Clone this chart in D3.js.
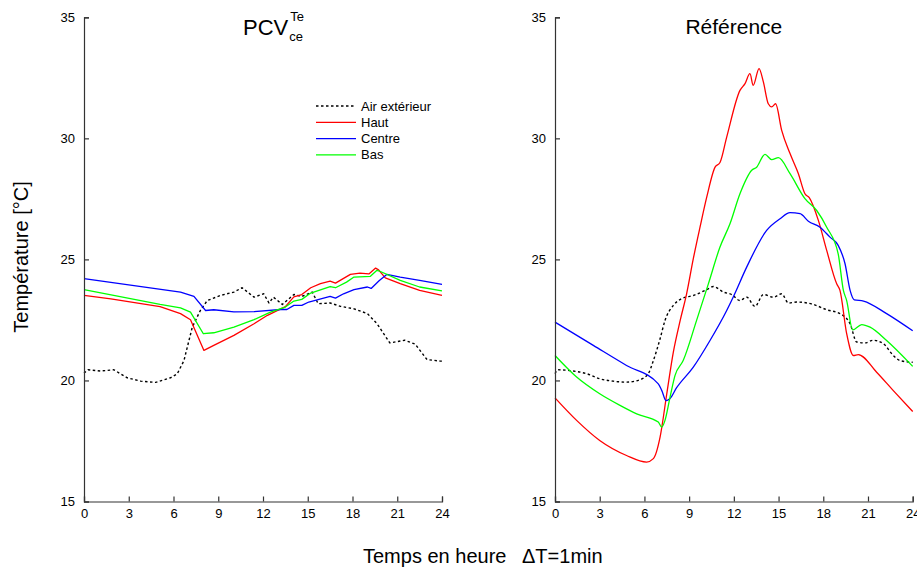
<!DOCTYPE html>
<html><head><meta charset="utf-8">
<script src="https://cdn.jsdelivr.net/npm/d3@7"></script>
<style>body{margin:0;background:#fff}svg{display:block}text{font-family:"Liberation Sans",Arial,sans-serif;fill:#000}</style>
</head><body><svg id="c" width="917" height="568"></svg>
<script>
// ---------- data ----------
const xTicks = [0,3,6,9,12,15,18,21,24];
const yTicks = [15,20,25,30,35];
const seriesNames = ["Air extérieur","Haut","Centre","Bas"];
const seriesColors = ["#000000","#ff0000","#0000ff","#00ff00"];

// PCV panel  [hour, °C]
const pcvAir = [[0,20.3],[0.27,20.44],[1.1,20.39],[2.0,20.44],[2.9,20.11],[3.8,19.97],[4.8,19.92],[5.8,20.11],[6.25,20.27],[6.7,20.82],[7.26,22.2],[7.8,22.89],[8.26,23.3],[9.15,23.51],[10.05,23.65],[10.6,23.83],[11.4,23.44],[12.05,23.58],[12.4,23.2],[12.7,23.44],[13.3,23.14],[14.07,23.55],[14.6,23.47],[15.3,23.65],[15.7,23.17],[16.5,23.2],[17.2,23.06],[18.1,22.96],[19.0,22.76],[19.65,22.34],[20.5,21.55],[21.5,21.66],[22.2,21.5],[23.0,20.86],[23.9,20.8],[24,20.8]];
const pcvHaut = [[0,23.51],[1.8,23.37],[5.1,23.05],[6.47,22.76],[7.14,22.51],[8.04,21.24],[8.7,21.45],[10.05,21.86],[11.4,22.34],[12.3,22.69],[13.5,23.05],[14.07,23.45],[14.6,23.55],[15.2,23.83],[15.85,24.0],[16.5,24.1],[16.86,24.02],[17.86,24.38],[18.5,24.43],[19.1,24.4],[19.55,24.64],[19.75,24.57],[20.2,24.24],[21.2,24.0],[22.5,23.72],[24,23.51]];
const pcvCentre = [[0,24.21],[6.47,23.65],[7.37,23.47],[8.15,22.89],[8.7,22.92],[10.05,22.83],[11.4,22.84],[13.2,22.93],[13.6,22.93],[14.07,23.1],[14.6,23.1],[15.07,23.24],[16.5,23.47],[16.86,23.4],[17.4,23.58],[18.1,23.75],[19.0,23.86],[19.25,23.8],[19.8,24.13],[20.3,24.38],[21.2,24.27],[22.5,24.13],[24,23.97]];
const pcvBas = [[0,23.75],[5.1,23.14],[6.47,23.0],[7.14,22.82],[8.0,21.93],[8.7,21.97],[10.05,22.2],[11.4,22.51],[12.5,22.82],[13.5,23.03],[14.07,23.28],[14.6,23.35],[15.2,23.61],[16.5,23.88],[16.86,23.83],[17.6,24.06],[18.1,24.27],[19.2,24.3],[19.64,24.55],[19.87,24.5],[21.2,24.13],[22.5,23.86],[24,23.7]];

// Référence panel
const refAir = [[0,20.28],[0.22,20.44],[1.23,20.39],[2.12,20.28],[3.0,20.07],[3.9,19.97],[4.8,19.93],[5.7,20.03],[6.26,20.28],[6.6,20.82],[7.05,21.72],[7.38,22.48],[7.94,23.1],[8.5,23.38],[9.28,23.51],[10.18,23.75],[10.62,23.88],[11.3,23.65],[11.85,23.55],[12.41,23.3],[12.86,23.44],[13.42,23.06],[13.98,23.55],[14.65,23.44],[15.21,23.58],[15.66,23.2],[16.22,23.24],[17.33,23.14],[18.23,22.92],[19.12,22.76],[19.8,22.34],[20.24,21.59],[20.8,21.55],[21.36,21.66],[22.03,21.52],[22.7,21.03],[23.15,20.82],[24,20.75]];
const refHaut = [[0,19.28],[1.45,18.35],[3.0,17.52],[4.8,16.9],[6.15,16.63],[6.6,16.77],[7.05,17.66],[7.5,19.45],[7.94,21.17],[8.4,22.48],[8.83,23.58],[9.28,25.03],[9.73,26.33],[10.18,27.57],[10.74,28.81],[11.07,29.0],[11.52,30.05],[12.41,31.98],[12.75,32.26],[13.08,32.67],[13.3,32.19],[13.69,32.88],[13.98,32.33],[14.31,31.43],[14.54,31.3],[14.8,31.43],[15.21,30.33],[15.77,29.37],[16.33,28.54],[16.77,27.71],[17.06,27.55],[17.67,26.61],[18.23,25.37],[18.9,23.99],[19.12,23.72],[19.57,21.93],[20.02,21.03],[20.35,21.07],[21.58,20.34],[22.7,19.58],[24,18.72]];
const refCentre = [[0,22.41],[2.57,21.45],[4.8,20.62],[6.93,19.86],[7.16,19.59],[7.45,19.17],[7.7,19.24],[8.16,19.7],[9.28,20.55],[10.4,21.65],[11.52,22.89],[12.0,23.5],[12.86,24.68],[14.2,26.2],[15.1,26.68],[15.77,26.93],[16.44,26.89],[17.0,26.58],[17.78,26.33],[18.45,25.92],[19.0,25.58],[19.46,24.82],[19.8,23.72],[20.08,23.33],[20.7,23.28],[22.25,22.76],[24,22.05]];
const refBas = [[0,21.03],[1.45,20.14],[3.0,19.45],[4.36,18.97],[5.48,18.62],[6.93,18.28],[7.16,18.07],[7.38,18.35],[7.72,19.31],[8.05,20.2],[8.6,20.82],[9.5,22.48],[10.29,23.99],[11.07,25.51],[11.74,26.47],[12.41,27.71],[13.2,28.68],[13.53,28.81],[14.09,29.34],[14.54,29.12],[14.99,29.2],[15.77,28.54],[16.77,27.51],[17.56,27.02],[18.23,26.33],[19.0,25.23],[19.35,23.72],[19.57,23.3],[19.97,22.09],[20.58,22.31],[21.14,22.2],[22.25,21.65],[24,20.58]];

// ---------- drawing ----------
const svg = d3.select("#c");
const y = d3.scaleLinear().domain([15,35]).range([501.5,17.3]);
const panels = [
  {x0:84, x1:442, title:"PCV", sup:"Te", sub:"ce", data:[pcvAir,pcvHaut,pcvCentre,pcvBas], legend:true, curve:d3.curveLinear},
  {x0:555, x1:912.7, title:"Référence", data:[refAir,refHaut,refCentre,refBas], legend:false, curve:d3.curveMonotoneX}
];

panels.forEach(p => {
  const x = d3.scaleLinear().domain([0,24]).range([p.x0,p.x1]);
  const g = svg.append("g");
  const line = d3.line().x(d=>x(d[0])).y(d=>y(d[1])).curve(p.curve);
  p.data.forEach((s,i) => {
    g.append("path").attr("d", line(s)).attr("fill","none")
      .attr("stroke", seriesColors[i]).attr("stroke-width", i===0?1.4:1.3)
      .attr("stroke-linejoin","round")
      .attr("stroke-dasharray", i===0?"2.5,2.5":null);
  });
  // axes (inward ticks)
  const ax = g.append("g").attr("transform",`translate(0,${y(15)})`)
    .call(d3.axisBottom(x).tickValues(xTicks).tickSize(-5).tickPadding(9));
  const ay = g.append("g").attr("transform",`translate(${p.x0},0)`)
    .call(d3.axisLeft(y).tickValues(yTicks).tickSize(-5).tickPadding(9));
  [ax,ay].forEach(a => {
    a.select(".domain").attr("stroke","#333").attr("stroke-width",1.2);
    a.selectAll(".tick line").attr("stroke","#333").attr("stroke-width",1.2);
    a.selectAll("text").style("font-size","13px").attr("fill","#000")
     .style("font-family",'"Liberation Sans",Arial,sans-serif');
  });
  ax.selectAll("text").attr("dy","0.75em").attr("y",7);
  // title
  const cx = (p.x0+p.x1)/2;
  const t = g.append("text").attr("x", cx).attr("y", 34).attr("text-anchor","middle").style("font-size","21px");
  if (p.sup) {
    t.style("font-size","22px").attr("text-anchor","start").attr("y",35);
    t.text(p.title);
    const w = t.node().getComputedTextLength();
    const left = 243;
    t.attr("x", left);
    const sx = left + w + 1;
    g.append("text").attr("x", sx+1).attr("y", 21).style("font-size","13px").text(p.sup);
    g.append("text").attr("x", sx).attr("y", 41).style("font-size","13px").text(p.sub);
  } else t.text(p.title);
  // legend
  if (p.legend) {
    const lg = g.append("g");
    seriesNames.forEach((n,i) => {
      const ly = 106 + i*16.3;
      lg.append("line").attr("x1",316).attr("x2",356).attr("y1",ly).attr("y2",ly)
        .attr("stroke",seriesColors[i]).attr("stroke-width",1.3)
        .attr("stroke-dasharray", i===0?"2.5,2.5":null);
      lg.append("text").attr("x",361).attr("y",ly+4.5).style("font-size","13px").text(n);
    });
  }
});

svg.append("text").attr("transform","translate(28,257) rotate(-90)").attr("text-anchor","middle")
  .style("font-size","20px").text("Température [°C]");
const xl = svg.append("text").attr("x",363).attr("y",563).style("font-size","20px");
xl.append("tspan").text("Temps en heure");
xl.append("tspan").attr("x",522).style("font-size","20px").text("ΔT=1min");
</script></body></html>
